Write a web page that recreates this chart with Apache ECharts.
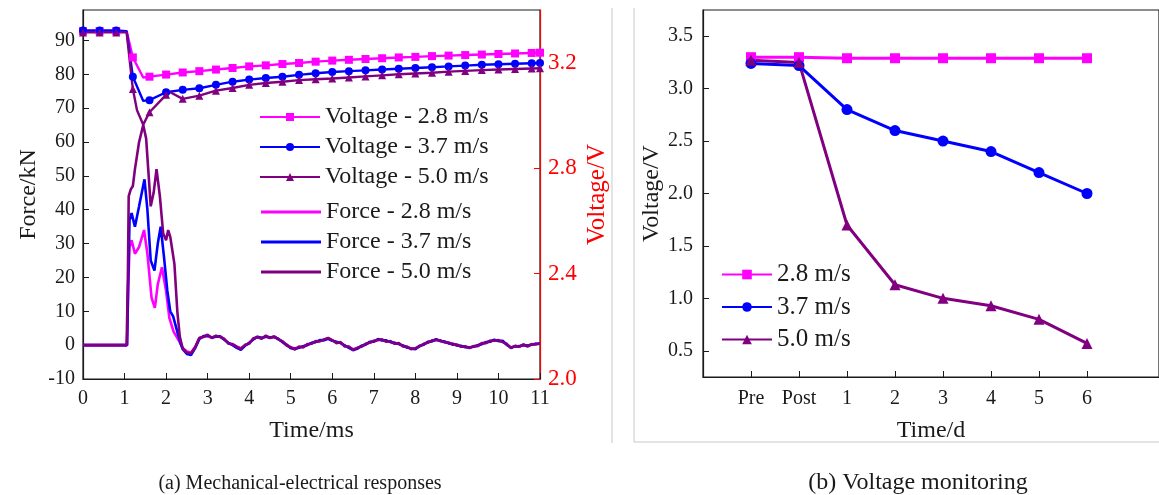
<!DOCTYPE html>
<html>
<head>
<meta charset="utf-8">
<script src="https://cdn.jsdelivr.net/npm/echarts@6/dist/echarts.min.js"></script>
<style>
  html, body { margin: 0; padding: 0; background: #fff; }
  #chart { width: 1159px; height: 495px; }
</style>
</head>
<body>
<div id="chart"></div>
<script>
// ---- (a) voltage during impact, [time ms, voltage V] ----
const voltage28 = [[0,3.32],[0.4,3.32],[0.8,3.32],[1.05,3.32],[1.2,3.22],[1.45,3.144],[1.6,3.147],[2.0,3.155],[2.4,3.163],[2.8,3.168],[3.2,3.174],[3.6,3.180],[4.0,3.186],[4.4,3.190],[4.8,3.195],[5.2,3.199],[5.6,3.204],[6.0,3.208],[6.4,3.211],[6.8,3.214],[7.2,3.217],[7.6,3.220],[8.0,3.222],[8.4,3.225],[8.8,3.227],[9.2,3.229],[9.6,3.231],[10.0,3.233],[10.4,3.235],[10.8,3.237],[11.0,3.238]]
const voltage37 = [[0,3.322],[0.4,3.322],[0.8,3.322],[1.05,3.32],[1.2,3.147],[1.45,3.055],[1.6,3.058],[2.0,3.088],[2.4,3.097],[2.8,3.103],[3.2,3.116],[3.6,3.128],[4.0,3.136],[4.4,3.142],[4.8,3.147],[5.2,3.154],[5.6,3.160],[6.0,3.165],[6.4,3.168],[6.8,3.171],[7.2,3.174],[7.6,3.177],[8.0,3.180],[8.4,3.183],[8.8,3.186],[9.2,3.189],[9.6,3.192],[10.0,3.194],[10.4,3.196],[10.8,3.198],[11.0,3.199]]
const voltage50 = [[0,3.315],[0.4,3.315],[0.8,3.315],[1.05,3.315],[1.2,3.10],[1.3,3.02],[1.45,2.965],[1.6,3.012],[2.0,3.078],[2.1,3.088],[2.4,3.063],[2.8,3.075],[3.2,3.094],[3.6,3.104],[4.0,3.116],[4.4,3.123],[4.8,3.128],[5.2,3.134],[5.6,3.137],[6.0,3.140],[6.4,3.144],[6.8,3.148],[7.2,3.152],[7.6,3.156],[8.0,3.159],[8.4,3.162],[8.8,3.166],[9.2,3.169],[9.6,3.172],[10.0,3.174],[10.4,3.176],[10.8,3.178],[11.0,3.179]]

// ---- (a) impact force, head as [time ms, kN], tail sampled every 0.1 ms from 2.4 ms ----
const force28Head = [[0,0],[1.06,0],[1.09,18],[1.12,29],[1.17,31],[1.25,27],[1.35,29],[1.47,34],[1.55,27],[1.65,14],[1.73,11],[1.8,18],[1.9,23],[2.0,16],[2.08,8],[2.18,4],[2.3,1.5]]
const force37Head = [[0,0],[1.06,0],[1.09,20],[1.12,37],[1.17,39],[1.25,35],[1.35,41],[1.48,49],[1.55,40],[1.63,25],[1.72,22],[1.8,30],[1.87,35],[1.95,26],[2.03,16],[2.1,10],[2.17,8.5],[2.28,3.5],[2.35,0.5]]
const force50Head = [[0,0],[1.05,0],[1.08,20],[1.1,44],[1.15,46],[1.2,47],[1.25,52],[1.35,60],[1.45,65],[1.52,61],[1.57,52],[1.63,41],[1.7,45],[1.77,52],[1.85,44],[1.93,33],[2.0,31],[2.05,34],[2.1,32],[2.2,24],[2.27,10],[2.33,2.5]]
const tailStart = 2.4
const tailStep = 0.1
const force28Tail = [-0.8,-1.9,-2.2,-0.5,1.9,2.5,2.7,2.2,2.6,2.5,1.7,0.6,0.2,-0.4,-0.9,-0.1,0.6,1.8,2.4,2.0,2.6,2.2,2.5,1.8,1.0,0.2,-0.7,-1.0,-0.6,-0.4,0.1,0.6,1.0,1.3,1.6,2.0,1.4,0.8,0.7,-0.2,-0.6,-1.2,-0.9,-0.3,0.2,0.8,1.1,1.6,1.5,1.2,1.0,0.6,0.4,-0.2,-0.6,-1.0,-1.0,-0.3,0.2,0.9,1.2,1.6,1.3,1.0,0.6,0.3,0.0,-0.3,-0.5,-0.7,-0.4,-0.1,0.4,0.8,1.2,1.4,1.3,1.1,0.2,-0.7,-0.3,-0.4,0.1,-0.2,0.2,0.4,0.5]
const force37Tail = [-1.2,-2.6,-2.9,-0.9,1.8,2.7,2.8,2.3,2.5,2.6,1.6,0.7,0.0,-0.8,-1.4,-0.2,0.7,1.7,2.5,2.2,2.5,2.3,2.4,1.9,0.9,0.1,-0.9,-1.1,-0.8,-0.3,0.0,0.7,0.9,1.5,1.4,1.9,1.3,1.0,0.6,-0.1,-0.8,-1.5,-1.1,-0.2,0.1,1.0,1.0,1.8,1.4,1.4,0.9,0.7,0.3,-0.1,-0.7,-1.0,-1.2,-0.2,0.1,1.0,1.1,1.8,1.2,1.1,0.5,0.4,-0.1,-0.2,-0.6,-0.7,-0.5,0.0,0.3,0.9,1.0,1.6,1.2,1.3,0.1,-0.7,-0.4,-0.3,0.0,-0.1,0.1,0.4,0.4]
const force50Tail = [-1.0,-2.2,-2.5,-0.6,2.2,2.4,3.1,2.1,2.8,2.4,1.9,0.4,0.3,-0.5,-1.1,0.1,0.4,2.0,2.3,1.9,2.8,2.1,2.6,1.7,1.2,-0.1,-0.6,-1.3,-0.4,-0.7,0.3,0.4,1.2,1.1,1.7,2.1,1.5,0.6,0.9,-0.4,-0.4,-1.4,-0.8,-0.5,0.4,0.7,1.3,1.5,1.7,1.0,1.2,0.4,0.6,-0.4,-0.4,-1.2,-0.9,-0.4,0.4,0.7,1.4,1.5,1.4,0.8,0.8,0.1,0.2,-0.5,-0.3,-0.9,-0.3,-0.3,0.6,0.6,1.3,1.3,1.5,0.9,0.4,-0.9,-0.2,-0.5,0.2,-0.4,0.3,0.2,0.5]

const forceTicks = [-10, 0, 10, 20, 30, 40, 50, 60, 70, 80, 90]
const voltTicks = [2.0, 2.4, 2.8, 3.2]

// ---- (b) voltage monitoring ----
const dayLabels = ['Pre', 'Post', '1', '2', '3', '4', '5', '6']
const monitor28 = [3.30, 3.30, 3.29, 3.29, 3.29, 3.29, 3.29, 3.29]
const monitor37 = [3.24, 3.22, 2.80, 2.60, 2.50, 2.40, 2.20, 2.00]
const monitor50 = [3.27, 3.25, 1.70, 1.13, 1.00, 0.93, 0.80, 0.57]
const monitorTicks = [0.5, 1.0, 1.5, 2.0, 2.5, 3.0, 3.5]

const MAGENTA = '#ff00ff'
const BLUE = '#0000ff'
const PURPLE = '#800080'
const RED = '#ff0000'
const INK = '#1a1a1a'
const FONT = 'Liberation Serif'
const PLAIN_LINE = 'path://M0,0H60V3H0Z'

const withTail = (head, tail) =>
  head.concat(tail.map((v, i) => [+(tailStart + i * tailStep).toFixed(2), v]))

// markers only every 0.4 ms and at the end, like the original plot
const markVoltage = (pts) =>
  pts.map((p) => {
    const k = Math.round(p[0] * 10)
    return k % 4 === 0 || k === 110 ? p : { value: p, symbol: 'none' }
  })

const chart = echarts.init(document.getElementById('chart'))

const axisText = { color: INK, fontFamily: FONT, fontSize: 20 }
const nameText = { color: INK, fontFamily: FONT, fontSize: 24 }

const forceLine = (name, color, data) => ({
  name, type: 'line', xAxisIndex: 0, yAxisIndex: 0,
  data, showSymbol: false, symbol: 'none',
  lineStyle: { color, width: 2.6 }, itemStyle: { color },
  animation: false,
})

const voltLine = (name, color, symbol, data) => ({
  name, type: 'line', xAxisIndex: 0, yAxisIndex: 1,
  data: markVoltage(data), symbol, symbolSize: 8, clip: false,
  lineStyle: { color, width: 2.4 }, itemStyle: { color },
  animation: false,
})

const monitorLine = (name, color, symbol, size, values) => ({
  name, type: 'line', xAxisIndex: 1, yAxisIndex: 2,
  data: values.map((v, i) => [i, v]), symbol, symbolSize: size,
  lineStyle: { color, width: 3 }, itemStyle: { color },
  animation: false,
})

chart.setOption({
  backgroundColor: '#fff',
  textStyle: { fontFamily: FONT },
  grid: [
    { left: 83, top: 10, width: 457, height: 369, show: true, borderColor: INK, borderWidth: 1.2 },
    { left: 703, top: 10, width: 470, height: 367, show: true, borderColor: INK, borderWidth: 1.2 },
  ],
  legend: [
    {
      orient: 'vertical', left: 254, top: 100, itemWidth: 60, itemHeight: 10, itemGap: 6,
      textStyle: { ...axisText, fontSize: 24, lineHeight: 24 },
      data: ['Voltage - 2.8 m/s', 'Voltage - 3.7 m/s', 'Voltage - 5.0 m/s'],
    },
    {
      orient: 'vertical', left: 256, top: 195, itemWidth: 60, itemHeight: 10, itemGap: 6,
      textStyle: { ...axisText, fontSize: 24, lineHeight: 24 },
      data: [
        { name: 'Force - 2.8 m/s', icon: PLAIN_LINE },
        { name: 'Force - 3.7 m/s', icon: PLAIN_LINE },
        { name: 'Force - 5.0 m/s', icon: PLAIN_LINE },
      ],
    },
    {
      orient: 'vertical', left: 716, top: 257, itemWidth: 50, itemHeight: 12, itemGap: 7.5,
      textStyle: { ...axisText, fontSize: 25, lineHeight: 25 },
      data: ['2.8 m/s', '3.7 m/s', '5.0 m/s'],
    },
  ],
  xAxis: [
    {
      gridIndex: 0, type: 'value', min: 0, max: 11, interval: 1,
      name: 'Time/ms', nameLocation: 'middle', nameGap: 40,
      nameTextStyle: { ...nameText },
      axisLine: { onZero: false, lineStyle: { color: INK, width: 1.2 } },
      axisTick: { inside: true, length: 6, lineStyle: { color: INK } },
      axisLabel: { ...axisText, margin: 10 },
      splitLine: { show: false },
    },
    {
      gridIndex: 1, type: 'value', min: -1, max: 8.5,
      name: 'Time/d', nameLocation: 'middle', nameGap: 42,
      nameTextStyle: { ...nameText },
      axisLine: { onZero: false, lineStyle: { color: INK, width: 1.2 } },
      axisTick: { inside: true, length: 6, lineStyle: { color: INK }, customValues: dayLabels.map((_, i) => i) },
      axisLabel: { ...axisText, margin: 12, customValues: dayLabels.map((_, i) => i), formatter: (v) => dayLabels[Math.round(v)] },
      splitLine: { show: false },
    },
  ],
  yAxis: [
    {
      gridIndex: 0, type: 'value', min: -10, max: 99,
      name: 'Force/kN', nameLocation: 'middle', nameGap: 42, nameRotate: 90,
      nameTextStyle: { ...nameText },
      axisLine: { show: true, onZero: false, lineStyle: { color: INK, width: 1.2 } },
      axisTick: { inside: true, length: 6, lineStyle: { color: INK }, customValues: forceTicks },
      axisLabel: { ...axisText, margin: 8, customValues: forceTicks },
      splitLine: { show: false },
    },
    {
      gridIndex: 0, type: 'value', position: 'right', min: 2.0, max: 3.4,
      name: 'Voltage/V', nameLocation: 'middle', nameGap: 45, nameRotate: 90,
      nameTextStyle: { ...nameText, color: RED, fontSize: 25 },
      axisLine: { show: true, onZero: false, lineStyle: { color: RED, width: 1.2 } },
      axisTick: { inside: true, length: 6, lineStyle: { color: RED }, customValues: voltTicks },
      axisLabel: { ...axisText, color: RED, fontSize: 23, margin: 8, customValues: voltTicks, formatter: (v) => v.toFixed(1) },
      splitLine: { show: false },
    },
    {
      gridIndex: 1, type: 'value', min: 0.25, max: 3.75,
      name: 'Voltage/V', nameLocation: 'middle', nameGap: 38, nameRotate: 90,
      nameTextStyle: { ...nameText },
      axisLine: { show: true, onZero: false, lineStyle: { color: INK, width: 1.2 } },
      axisTick: { inside: true, length: 6, lineStyle: { color: INK }, customValues: monitorTicks },
      axisLabel: { ...axisText, margin: 10, customValues: monitorTicks, formatter: (v) => v.toFixed(1) },
      splitLine: { show: false },
    },
  ],
  series: [
    forceLine('Force - 2.8 m/s', MAGENTA, withTail(force28Head, force28Tail)),
    forceLine('Force - 3.7 m/s', BLUE, withTail(force37Head, force37Tail)),
    forceLine('Force - 5.0 m/s', PURPLE, withTail(force50Head, force50Tail)),
    voltLine('Voltage - 2.8 m/s', MAGENTA, 'rect', voltage28),
    voltLine('Voltage - 3.7 m/s', BLUE, 'circle', voltage37),
    voltLine('Voltage - 5.0 m/s', PURPLE, 'triangle', voltage50),
    monitorLine('2.8 m/s', MAGENTA, 'rect', 10, monitor28),
    monitorLine('3.7 m/s', BLUE, 'circle', 11, monitor37),
    monitorLine('5.0 m/s', PURPLE, 'triangle', 11, monitor50),
  ],
  graphic: [
    { type: 'line', shape: { x1: 612, y1: 8, x2: 612, y2: 443 }, style: { stroke: '#c8c8c8', lineWidth: 1 } },
    { type: 'line', shape: { x1: 634, y1: 8, x2: 634, y2: 442 }, style: { stroke: '#c8c8c8', lineWidth: 1 } },
    { type: 'line', shape: { x1: 634, y1: 442, x2: 1159, y2: 442 }, style: { stroke: '#c8c8c8', lineWidth: 1 } },
    { type: 'text', x: 300, y: 474, style: { text: '(a) Mechanical-electrical responses', fill: INK, font: '20px "Liberation Serif"', textAlign: 'center' } },
    { type: 'text', x: 918, y: 471, style: { text: '(b) Voltage monitoring', fill: INK, font: '24px "Liberation Serif"', textAlign: 'center' } },
  ],
})

window.addEventListener('resize', () => chart.resize())
</script>
</body>
</html>
